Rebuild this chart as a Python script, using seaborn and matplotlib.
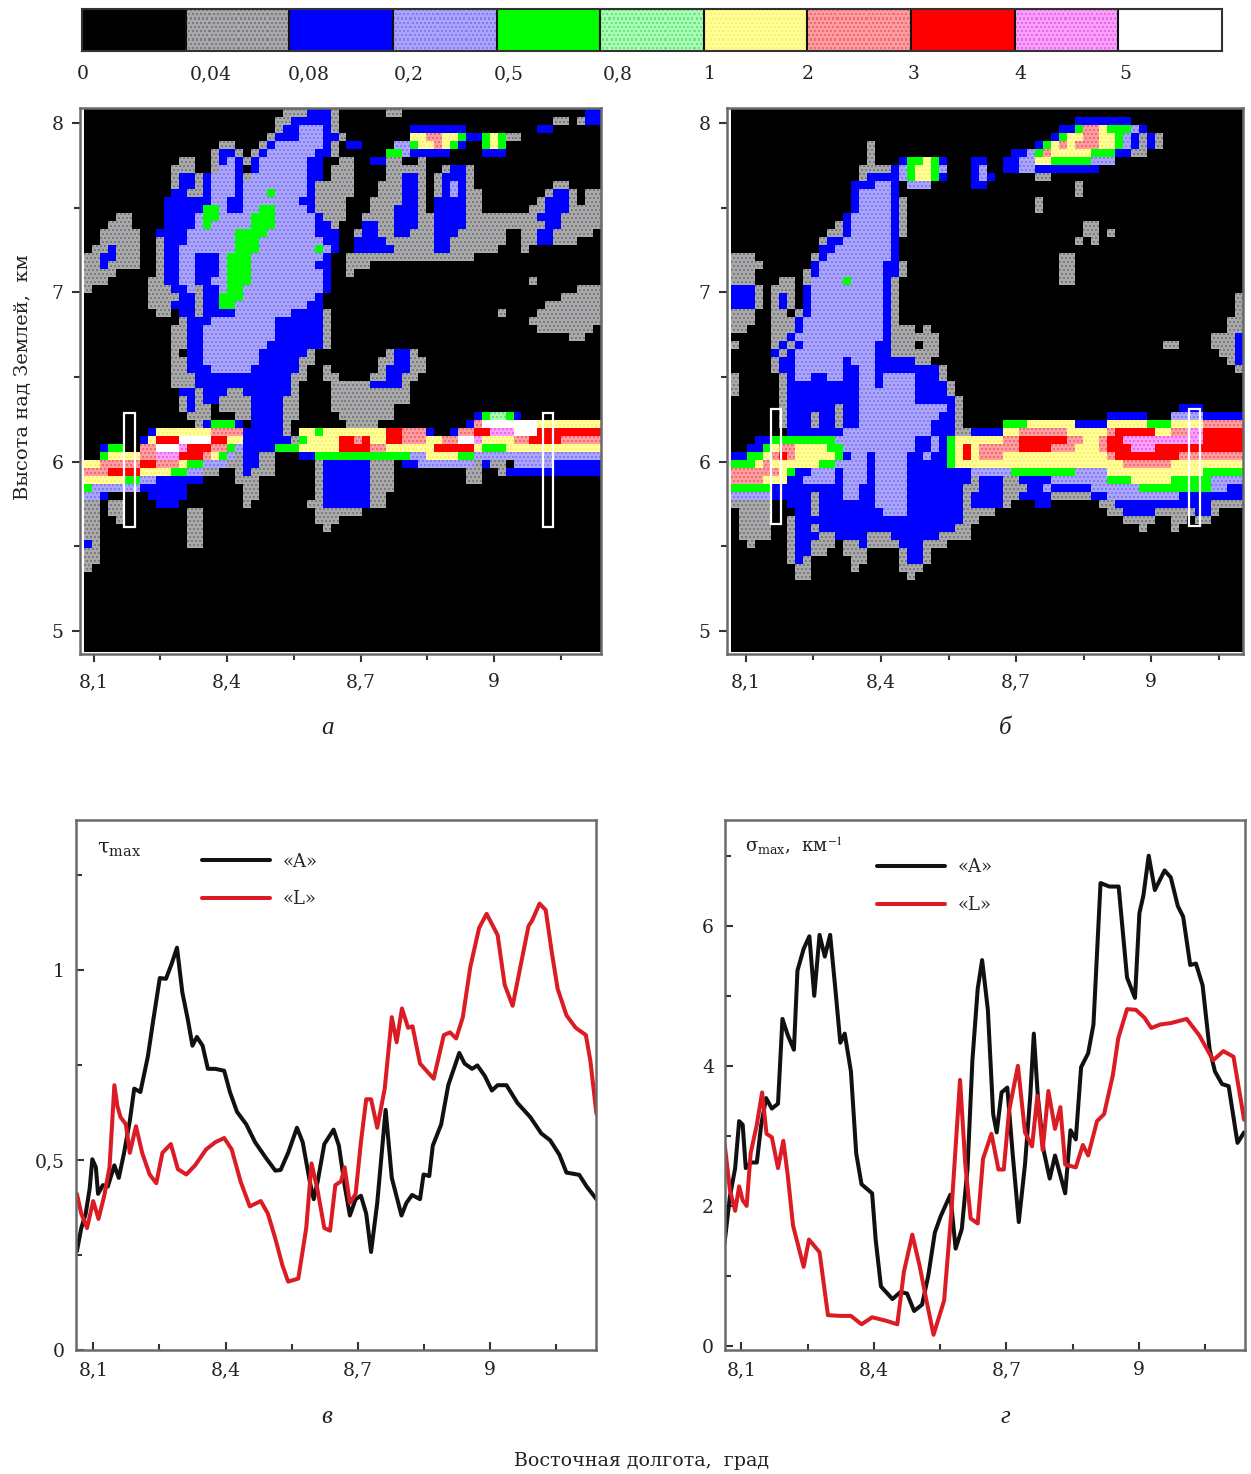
import numpy as np
import pandas as pd
import matplotlib
matplotlib.use("Agg")
import matplotlib.pyplot as plt
from matplotlib.colors import ListedColormap
from matplotlib.patches import Rectangle
import seaborn as sns

# =========================
# colour scale
# =========================
scale_labels = ['0', '0,04', '0,08', '0,2', '0,5', '0,8', '1', '2', '3', '4', '5']
level_colors = ['#000000', '#a9a9a9', '#0000ff', '#a6a6ff', '#00ff00', '#aaffaa',
                '#ffff99', '#ff9c9c', '#ff0000', '#ff9cff', '#ffffff']
dot_colors = ['#000000', '#7c7c84', '#0000ff', '#8f78e8', '#00ff00', '#66e09a',
              '#fff070', '#ee6a7a', '#ff0000', '#e070e0', '#ffffff']

# =========================
# lidar sections: "column:level" runs per row, from the top
# =========================
section_a = [
    "25:1 28:2 31:1 32:0 38:1 40:0 63:2 65:0",
    "24:1 26:2 31:1 32:0 59:1 61:0 62:1 63:2 65:0",
    "24:1 25:2 27:3 30:2 31:1 32:0 41:2 48:0 57:2 59:0",
    "23:1 24:2 27:3 30:2 32:1 33:0 41:6 43:7 45:6 47:4 48:2 50:4 51:6 52:4 53:1 55:0",
    "17:1 19:0 22:1 23:2 24:3 30:2 31:1 32:0 33:2 35:0 39:3 41:4 42:6 44:7 45:6 46:4 47:2 48:0 50:4 51:6 52:4 53:0",
    "16:1 17:2 19:1 20:0 21:1 22:2 23:3 29:2 31:1 32:0 38:4 40:3 41:2 46:0 50:2 53:0",
    "12:1 14:0 16:1 17:2 18:3 19:2 20:1 21:2 22:3 28:2 30:0 32:1 34:0 36:2 38:1 40:0 42:1 43:0",
    "11:1 14:0 16:1 17:3 19:2 20:0 21:2 22:3 28:2 30:0 31:1 34:0 38:1 43:0 45:1 46:2 48:1 49:0",
    "11:1 12:2 14:1 15:2 16:3 19:2 20:1 21:3 28:2 30:0 31:1 34:0 38:1 40:2 42:1 43:0 44:1 45:2 48:1 49:0",
    "11:1 12:2 14:1 15:2 16:3 19:2 20:3 28:2 29:1 34:0 37:1 40:2 42:1 43:0 44:1 45:2 46:3 47:2 48:1 49:0 59:1 61:0",
    "11:2 13:1 15:2 16:3 19:2 20:3 23:4 24:3 28:2 29:1 34:0 37:1 40:2 42:1 43:0 44:1 45:2 46:3 47:2 48:1 50:0 58:1 59:2 61:1 62:0 63:1 65:0",
    "10:2 16:3 18:2 20:3 27:2 29:1 33:0 36:1 40:2 42:1 43:0 44:2 48:1 50:0 57:1 58:2 61:1 62:0 63:1 65:0",
    "10:2 15:4 17:3 18:2 20:3 22:4 24:3 28:2 29:1 33:0 36:1 39:2 42:1 43:0 44:2 48:1 50:0 56:1 58:2 61:1 65:0",
    "4:1 6:0 10:2 14:3 15:4 17:3 21:4 24:3 29:2 30:1 33:0 35:1 39:2 42:1 44:2 48:1 57:2 60:1 65:0",
    "3:1 6:0 10:2 14:3 15:4 16:3 21:4 24:3 29:2 31:1 32:0 35:2 37:1 39:2 42:1 44:2 48:1 58:2 60:1 65:0",
    "2:1 7:0 9:2 13:3 19:4 23:3 29:2 32:0 34:1 35:2 37:1 39:2 41:1 44:2 47:1 53:0 55:1 57:2 59:1 64:0",
    "2:1 7:0 9:1 10:2 13:3 19:4 22:3 30:2 32:0 34:2 38:1 44:2 46:1 53:0 55:1 57:2 59:1 62:0",
    "1:1 3:2 4:1 7:0 9:1 10:2 12:3 19:4 22:3 29:4 30:3 31:2 32:0 34:2 39:1 44:2 46:1 52:0 55:1 56:0",
    "0:1 2:2 4:1 7:0 9:1 10:2 12:3 14:2 17:3 18:4 21:3 30:2 31:0 33:1 49:0",
    "0:1 2:2 3:1 7:0 9:1 10:2 12:3 14:2 17:3 18:4 21:3 29:2 31:0 33:1 36:0",
    "0:1 4:0 9:1 10:2 12:3 14:2 17:3 18:4 21:3 30:2 31:0 33:1 34:0",
    "0:1 3:0 8:1 10:2 12:3 14:2 16:3 18:4 21:3 30:2 31:0 56:1 57:0",
    "0:1 1:0 8:1 11:2 13:3 14:1 15:2 17:3 18:4 20:3 30:2 31:0 62:1 65:0",
    "8:1 12:2 14:1 15:2 17:4 20:3 29:2 30:0 60:1 65:0",
    "8:1 11:2 14:1 15:2 17:4 19:3 28:2 30:0 58:1 65:0",
    "9:1 11:0 12:2 14:1 15:2 19:3 26:2 30:1 31:0 52:1 53:0 57:1 65:0",
    "12:1 13:2 16:3 24:2 30:1 31:0 56:1 65:0",
    "11:1 13:2 15:3 24:2 30:1 31:0 57:1 64:0",
    "11:1 13:2 15:3 24:2 30:1 31:0 61:1 63:0",
    "11:1 13:2 15:3 23:2 30:1 31:0",
    "11:1 12:0 13:2 15:3 22:2 28:1 29:0 38:1 39:2 41:1 42:0",
    "11:1 13:2 15:3 22:2 27:1 29:0 37:1 39:2 41:1 43:0",
    "11:1 13:2 16:3 21:2 27:1 28:0 30:1 31:0 37:1 38:2 41:1 43:0",
    "11:1 14:2 26:1 28:0 30:1 32:0 36:1 38:2 40:1 42:0",
    "11:1 14:2 26:1 27:0 31:1 36:2 40:1 41:0",
    "12:2 14:1 15:2 18:1 20:2 26:1 27:0 31:1 41:0",
    "12:1 13:2 14:1 15:2 17:1 21:2 25:1 27:0 31:1 41:0",
    "12:1 13:2 14:1 16:0 17:1 21:2 25:1 27:0 31:1 39:0",
    "13:1 16:0 19:1 21:2 25:1 27:0 32:1 39:0 49:2 50:4 51:5 53:4 54:2 55:0",
    "14:1 15:2 16:4 19:2 20:0 21:2 25:1 26:0 33:1 37:0 48:2 49:7 50:a 57:6 65:0",
    "8:2 9:6 16:7 20:2 25:1 26:0 27:6 29:4 30:6 38:8 40:7 43:2 44:0 46:2 47:7 49:8 51:9 54:a 57:8 65:0",
    "7:2 8:6 9:8 12:a 16:8 18:6 20:2 26:1 27:4 28:6 32:8 34:7 35:8 36:6 38:8 40:7 43:6 45:7 47:a 49:9 50:6 54:7 56:8 60:7 65:0",
    "2:2 3:4 5:0 7:7 9:a 12:9 13:8 16:7 18:4 19:3 20:2 24:4 27:6 32:8 36:7 38:6 44:8 49:6 50:4 53:6 65:0",
    "2:4 3:6 7:7 9:9 12:8 15:7 16:6 17:4 18:3 19:1 20:2 22:1 24:0 27:2 29:4 41:3 43:6 47:4 49:3 65:0",
    "0:6 2:7 7:8 9:7 12:6 13:4 15:3 18:1 20:2 22:1 24:0 29:1 30:2 36:1 39:0 40:2 42:3 49:1 50:2 51:1 53:0 54:3 59:2 65:0",
    "0:7 3:8 7:6 11:4 13:3 15:1 17:0 19:1 20:2 21:1 24:0 29:1 30:2 36:1 39:0 48:1 50:0 52:1 53:2 65:0",
    "0:6 5:4 7:3 9:2 15:0 19:1 22:0 29:1 30:2 36:1 39:0 48:1 50:0",
    "0:4 1:3 7:2 13:0 20:1 22:0 29:1 30:2 36:1 39:0",
    "0:3 2:2 3:0 8:2 13:0 20:1 22:0 29:1 30:2 36:1 38:0",
    "0:1 2:0 3:1 5:0 9:2 12:0 20:1 21:0 28:1 30:2 36:1 38:0",
    "0:1 2:0 3:1 5:0 13:1 15:0 29:1 35:0",
    "0:1 2:0 4:1 5:0 13:1 15:0 29:1 32:0",
    "0:1 2:0 13:1 15:0 30:1 31:0",
    "0:1 2:0 13:1 15:0",
    "0:2 1:1 2:0 13:1 15:0",
    "0:1 2:0",
    "0:1 2:0",
    "0:1 1:0",
]

section_b = [
    "",
    "43:2 50:0",
    "41:2 43:4 44:7 46:6 47:4 50:3 51:2 52:0",
    "40:2 41:4 42:6 44:7 46:6 48:4 49:3 50:2 51:1 52:2 53:1 54:0",
    "17:1 18:0 38:2 39:4 40:6 41:7 42:6 43:7 46:6 48:4 49:3 50:2 51:1 52:2 53:1 54:0",
    "17:1 18:0 35:2 37:3 38:4 39:7 40:6 45:4 48:2 50:1 52:0",
    "17:1 18:0 21:2 22:4 24:6 25:4 26:2 27:0 30:2 32:0 34:2 36:3 38:6 40:4 45:3 48:0",
    "16:1 20:2 21:3 22:4 23:6 25:4 26:3 27:0 30:2 31:3 32:0 34:2 36:3 38:2 46:0",
    "16:1 17:2 21:3 22:4 23:6 25:4 26:2 27:0 30:2 31:3 32:2 33:0 38:1 40:0",
    "15:2 18:3 20:2 21:0 22:3 25:0 30:2 32:0 43:1 44:0",
    "15:2 16:3 20:2 21:0 43:1 44:0",
    "15:2 16:3 20:2 21:1 22:0 38:1 39:0",
    "15:2 16:3 20:2 21:1 22:0 38:1 39:0",
    "14:2 15:3 20:2 21:1 22:0",
    "13:1 14:2 15:3 20:2 21:1 22:0 44:1 46:0",
    "12:1 14:2 15:3 20:2 21:1 22:0 44:1 46:0 47:1 48:0",
    "11:1 12:2 14:3 20:2 21:0 43:1 44:0 45:1 46:0",
    "11:2 13:3 20:2 21:0",
    "0:1 3:0 10:1 11:2 12:3 20:2 21:0 41:1 43:0",
    "0:1 4:0 10:2 11:3 19:2 21:1 22:0 41:1 43:0",
    "0:1 3:0 9:1 10:2 11:3 19:2 21:1 22:0 41:1 43:0",
    "0:1 3:0 6:1 8:0 9:1 10:3 14:4 15:3 19:2 20:1 21:0 41:1 43:0",
    "0:2 3:1 4:0 5:1 8:0 9:2 10:3 19:2 20:1 21:0",
    "0:2 3:1 4:0 5:1 6:2 7:1 8:0 9:2 10:3 19:2 20:1 21:0 63:1 64:0",
    "0:2 3:1 4:0 5:1 6:2 7:1 8:0 9:2 10:3 19:2 20:1 21:0 63:1 64:0",
    "0:1 3:0 5:1 7:0 8:1 9:2 10:3 19:2 20:1 21:0 63:1 64:0",
    "0:1 3:0 5:1 8:2 9:3 19:2 20:1 21:0 62:1 64:0",
    "0:1 2:0 5:1 8:2 9:3 19:2 20:1 23:0 24:1 25:0 62:1 64:0",
    "5:1 7:2 8:3 19:2 20:1 26:0 60:1 63:2 64:0",
    "0:1 1:0 5:1 6:2 7:1 8:2 9:3 18:2 20:1 23:0 24:1 26:0 54:1 56:0 60:1 63:2 64:0",
    "5:2 6:1 7:2 8:3 18:2 20:1 26:0 61:1 63:2 64:0",
    "5:1 6:2 8:3 14:2 15:3 18:2 23:1 25:0 62:1 63:2 64:0",
    "5:1 6:2 8:3 14:2 16:3 18:2 26:1 27:0 63:1 64:0",
    "0:1 1:0 6:1 7:2 8:3 10:2 12:3 14:2 16:3 18:2 19:3 23:2 26:1 27:0",
    "0:1 1:0 6:1 7:2 16:3 18:2 19:3 23:2 27:1 28:0",
    "0:1 1:0 6:1 7:2 16:3 23:2 27:1 28:0",
    "6:1 7:2 16:3 23:2 28:1 29:0",
    "6:1 7:2 13:1 14:2 16:3 27:2 28:1 29:0 56:2 59:0",
    "6:1 7:2 10:1 11:2 13:1 14:2 16:3 26:2 28:1 29:0 47:2 52:0 55:3 59:2 64:0",
    "6:1 7:2 10:1 11:2 13:1 14:2 16:3 25:2 28:1 29:0 34:4 37:6 43:2 47:6 52:4 55:6 59:7 64:0",
    "7:2 14:3 25:2 28:1 30:2 34:6 36:7 42:6 47:7 48:8 53:6 55:7 57:9 59:8 64:0",
    "3:2 5:4 13:3 23:2 25:3 26:2 27:4 28:6 34:7 36:8 42:7 44:6 46:7 47:8 49:9 59:8 64:0",
    "2:2 4:4 5:6 6:7 8:6 12:4 14:3 23:2 25:3 26:2 27:4 28:6 29:8 30:6 31:7 36:8 40:7 43:6 46:7 47:8 50:9 53:8 64:0",
    "0:2 2:4 4:6 5:7 6:8 7:7 8:6 13:4 14:2 15:3 17:2 18:3 22:2 24:3 25:2 27:4 28:6 29:8 30:6 31:7 34:6 47:7 48:8 56:7 64:0",
    "0:4 3:6 4:7 5:6 11:4 13:3 17:2 18:3 22:2 27:4 28:6 49:7 55:6 64:0",
    "0:7 6:6 7:4 8:2 10:3 13:2 14:3 17:2 18:3 22:2 30:3 35:4 43:3 47:6 59:4 64:0",
    "0:7 4:6 7:2 9:3 13:2 14:3 17:2 18:3 22:2 30:1 31:2 34:1 36:2 40:3 47:4 50:6 55:4 60:3 64:0",
    "0:4 5:2 14:3 16:2 18:3 22:2 29:1 31:2 34:1 37:2 39:3 40:2 45:3 51:4 60:3 62:2 64:0",
    "0:3 5:2 10:1 11:2 14:3 16:2 18:3 22:2 29:1 30:2 34:1 36:2 40:1 45:2 47:3 56:2 64:0",
    "0:1 5:0 7:2 10:1 11:2 18:3 22:2 29:1 30:2 34:1 35:0 38:2 40:0 46:1 48:2 60:1 64:0",
    "1:1 5:0 8:2 10:1 11:2 19:3 22:2 29:1 31:1 33:0 47:1 49:2 53:1 58:2 60:1 61:0",
    "1:1 5:0 7:1 8:2 29:1 31:0 49:1 53:0 55:1 57:0 58:1 60:0",
    "1:1 5:0 7:1 8:2 10:1 11:2 28:1 30:0 51:1 52:0 55:1 56:0",
    "1:1 5:0 7:1 8:2 11:1 13:2 17:1 20:2 26:1 30:0",
    "2:1 3:0 7:1 8:2 10:1 13:0 14:1 16:2 17:1 21:2 24:1 27:0",
    "7:1 8:2 10:1 12:0 14:1 17:0 21:1 22:2 24:1 25:0",
    "7:1 8:2 9:1 10:0 15:1 17:0 21:1 22:2 24:1 25:0",
    "8:1 10:0 15:1 16:0 21:1 24:0",
    "8:1 10:0 22:1 23:0",
]

# =========================
# curves
# =========================
tau_lon_a = [8.063, 8.073, 8.083, 8.092, 8.098, 8.106, 8.111, 8.122, 8.133, 8.148, 8.158, 8.170, 8.183, 8.193,
             8.207, 8.224, 8.236, 8.251, 8.265, 8.278, 8.290, 8.302, 8.315, 8.325, 8.335, 8.348, 8.360, 8.377,
             8.397, 8.410, 8.426, 8.447, 8.467, 8.492, 8.513, 8.525, 8.542, 8.562, 8.575, 8.591, 8.600, 8.609,
             8.624, 8.645, 8.657, 8.670, 8.682, 8.695, 8.707, 8.719, 8.730, 8.744, 8.763, 8.777, 8.799, 8.810,
             8.823, 8.841, 8.849, 8.862, 8.870, 8.889, 8.905, 8.930, 8.942, 8.959, 8.971, 8.988, 9.004, 9.017,
             9.037, 9.062, 9.091, 9.116, 9.136, 9.157, 9.173, 9.202, 9.219, 9.241]
tau_a = [.260, .321, .359, .425, .502, .481, .411, .434, .430, .486, .453, .519, .603, .688,
         .679, .773, .867, .979, .977, 1.017, 1.059, .942, .867, .801, .824, .801, .740, .740,
         .735, .679, .627, .594, .547, .505, .472, .474, .519, .585, .547, .444, .397, .444,
         .542, .580, .538, .434, .354, .397, .406, .359, .258, .387, .632, .453, .354, .387,
         .408, .397, .462, .458, .538, .594, .697, .782, .754, .740, .749, .721, .683, .697,
         .697, .650, .613, .570, .552, .514, .467, .461, .430, .397]
tau_lon_l = [8.063, 8.073, 8.086, 8.100, 8.112, 8.125, 8.137, 8.148, 8.155, 8.162, 8.174, 8.183, 8.197, 8.211,
             8.228, 8.243, 8.257, 8.276, 8.292, 8.311, 8.331, 8.356, 8.377, 8.397, 8.414, 8.434, 8.455, 8.480,
             8.496, 8.513, 8.529, 8.542, 8.565, 8.583, 8.595, 8.608, 8.624, 8.637, 8.649, 8.662, 8.670, 8.682,
             8.695, 8.707, 8.719, 8.730, 8.744, 8.761, 8.777, 8.788, 8.800, 8.814, 8.824, 8.841, 8.872, 8.895,
             8.909, 8.923, 8.938, 8.955, 8.975, 8.992, 9.017, 9.033, 9.051, 9.070, 9.087, 9.095, 9.112, 9.126,
             9.140, 9.153, 9.173, 9.194, 9.217, 9.227, 9.241]
tau_l = [.411, .359, .321, .392, .345, .406, .481, .697, .641, .613, .594, .519, .589, .519,
         .462, .439, .519, .542, .476, .462, .486, .528, .547, .558, .528, .444, .378, .392,
         .359, .293, .223, .180, .188, .321, .491, .425, .321, .314, .434, .444, .481, .387,
         .411, .547, .660, .660, .585, .688, .876, .810, .899, .848, .852, .754, .714, .829,
         .836, .820, .876, 1.008, 1.111, 1.148, 1.092, .961, .906, 1.017, 1.116, 1.130, 1.175, 1.158,
         1.045, .951, .881, .848, .829, .763, .622]

sigma_lon_a = [8.062, 8.074, 8.086, 8.095, 8.103, 8.110, 8.121, 8.135, 8.145, 8.156, 8.169, 8.183, 8.193, 8.205,
               8.219, 8.227, 8.241, 8.254, 8.265, 8.277, 8.289, 8.301, 8.312, 8.324, 8.334, 8.348, 8.360, 8.372,
               8.396, 8.404, 8.416, 8.442, 8.460, 8.475, 8.491, 8.509, 8.523, 8.538, 8.551, 8.573, 8.585, 8.599,
               8.612, 8.623, 8.635, 8.645, 8.658, 8.670, 8.678, 8.689, 8.702, 8.714, 8.728, 8.742, 8.754, 8.762,
               8.771, 8.784, 8.798, 8.810, 8.833, 8.845, 8.857, 8.869, 8.885, 8.897, 8.913, 8.933, 8.954, 8.973,
               8.991, 9.001, 9.010, 9.022, 9.036, 9.058, 9.072, 9.088, 9.100, 9.116, 9.129, 9.144, 9.160, 9.172,
               9.188, 9.203, 9.223, 9.238]
sigma_a = [1.47, 2.13, 2.54, 3.21, 3.16, 2.54, 2.62, 2.62, 3.16, 3.54, 3.39, 3.46, 4.67, 4.44,
           4.23, 5.36, 5.67, 5.85, 5.00, 5.87, 5.56, 5.87, 5.15, 4.33, 4.46, 3.92, 2.75, 2.31,
           2.18, 1.52, .85, .67, .77, .75, .50, .59, 1.00, 1.62, 1.85, 2.16, 1.39, 1.67,
           2.54, 4.08, 5.10, 5.51, 4.80, 3.31, 3.05, 3.62, 3.69, 2.75, 1.77, 2.59, 3.57, 4.46,
           3.57, 2.80, 2.39, 2.72, 2.18, 3.08, 2.95, 3.98, 4.18, 4.59, 6.61, 6.56, 6.56, 5.26,
           4.97, 6.18, 6.43, 7.00, 6.51, 6.79, 6.69, 6.28, 6.13, 5.44, 5.46, 5.15, 4.23, 3.92,
           3.74, 3.71, 2.90, 3.05]
sigma_lon_l = [8.062, 8.074, 8.086, 8.095, 8.103, 8.112, 8.121, 8.135, 8.147, 8.157, 8.169, 8.183, 8.195, 8.205,
               8.217, 8.241, 8.253, 8.277, 8.296, 8.324, 8.348, 8.372, 8.396, 8.428, 8.453, 8.468, 8.487, 8.503,
               8.519, 8.535, 8.559, 8.575, 8.595, 8.607, 8.619, 8.635, 8.647, 8.666, 8.682, 8.694, 8.706, 8.726,
               8.742, 8.758, 8.770, 8.782, 8.795, 8.810, 8.822, 8.833, 8.857, 8.873, 8.885, 8.905, 8.921, 8.941,
               8.953, 8.973, 8.993, 9.012, 9.028, 9.048, 9.072, 9.108, 9.136, 9.168, 9.191, 9.214, 9.238]
sigma_l = [2.90, 2.23, 1.93, 2.28, 2.08, 2.00, 2.75, 3.16, 3.62, 3.03, 2.98, 2.54, 2.93, 2.44,
           1.72, 1.13, 1.52, 1.34, .44, .43, .43, .31, .41, .36, .31, 1.06, 1.59, 1.16,
           .65, .16, .65, 1.88, 3.80, 2.59, 1.82, 1.75, 2.67, 3.03, 2.52, 2.52, 3.36, 4.00,
           3.05, 2.85, 3.57, 2.80, 3.64, 3.10, 3.41, 2.59, 2.55, 2.87, 2.72, 3.21, 3.31, 3.87,
           4.39, 4.81, 4.80, 4.69, 4.54, 4.59, 4.61, 4.67, 4.44, 4.08, 4.21, 4.13, 3.23]

lon_major = [8.1, 8.4, 8.7, 9.0]
lon_minor = [8.25, 8.55, 8.85, 9.15]
lon_labels = ['8,1', '8,4', '8,7', '9']

sns.set_theme(style='ticks')
plt.rcParams['font.family'] = ['DejaVu Serif', 'Liberation Serif']
plt.rcParams['mathtext.fontset'] = 'stix'
FS = 13.5
EDGE = '#6a6a6a'
W, H = 1251, 1474


def add_ax(x0, y0, x1, y1, **kw):
    return fig.add_axes([x0 / W, 1 - y1 / H, (x1 - x0) / W, (y1 - y0) / H], **kw)


def parse_section(rows, ncols, nrows):
    grid = np.zeros((nrows, ncols), dtype=int)
    for r, row in enumerate(rows):
        runs = [t.split(':') for t in row.split()]
        for i, (c, lev) in enumerate(runs):
            end = int(runs[i + 1][0]) if i + 1 < len(runs) else ncols
            grid[r, int(c):end] = int(lev, 16)
    return grid


def stipple(grid, k, ky=None):
    # every second subcell of a dotted level takes the dot colour
    ky = ky or k
    fine = np.kron(grid, np.ones((ky, k), dtype=int))
    ii, jj = np.indices(fine.shape)
    shift = (ii // 2) % 2
    dots = (ii % 2 == 0) & ((jj + shift) % 2 == 0) & np.isin(fine, [1, 3, 5, 6, 7, 9])
    return fine + 11 * dots


cmap = ListedColormap(level_colors + dot_colors)


def draw_field(grid, box):
    ax = add_ax(*box, zorder=1)
    sns.heatmap(stipple(grid, 4), cmap=cmap, vmin=-0.5, vmax=21.5, cbar=False,
                xticklabels=False, yticklabels=False, ax=ax)
    ax.set_xlabel('')
    ax.set_ylabel('')


def style_frame(ax, xlim, ylim, direction, length, pad):
    ax.set_xlim(*xlim)
    ax.set_ylim(*ylim)
    ax.set_xticks(lon_major, lon_labels)
    ax.set_xticks(lon_minor, minor=True)
    ax.tick_params(axis='both', which='major', direction=direction, length=length, width=1.5,
                   color='#333333', labelsize=FS, labelcolor='#222222', pad=pad)
    ax.tick_params(axis='both', which='minor', direction=direction, length=length * 0.7, width=1.5,
                   color='#333333')
    for s in ax.spines.values():
        s.set_visible(True)
        s.set_color(EDGE)
        s.set_linewidth(1.8)


fig = plt.figure(figsize=(W / 100, H / 100), dpi=100)

# =========================
# colour bar
# =========================
ax_bar = add_ax(82, 9, 1222, 51)
bar_grid = np.arange(11).reshape(1, 11)
sns.heatmap(stipple(bar_grid, 50, 20), cmap=cmap, vmin=-0.5, vmax=21.5, cbar=False,
            xticklabels=False, yticklabels=False, ax=ax_bar)
ax_bar.vlines(np.arange(1, 11) * 50, 0, 20, color='#111111', lw=1.5)
ax_bar.set_xlabel('')
ax_bar.set_ylabel('')
for s in ax_bar.spines.values():
    s.set_visible(True)
    s.set_color('#333333')
    s.set_linewidth(1.5)
label_left = [77, 190, 288, 394, 494, 603, 704, 802, 908, 1014, 1119]
for px, label in zip(label_left, scale_labels):
    fig.text(px / W, 1 - 74 / H, label, fontsize=FS, color='#222222', ha='left', va='center')

# =========================
# sections a, b
# =========================
draw_field(parse_section(section_a, 65, 68), (84, 109, 601, 652))
draw_field(parse_section(section_b, 64, 68), (731, 109, 1243, 652))

ax_a = add_ax(80, 108, 601, 654, zorder=2)
ax_b = add_ax(727, 108, 1243, 654, zorder=2)
ax_a.patch.set_visible(False)
ax_b.patch.set_visible(False)
style_frame(ax_a, (8.069, 9.241), (4.864, 8.089), 'out', 6, 8)
style_frame(ax_b, (8.058, 9.204), (4.864, 8.089), 'out', 6, 8)
for ax in (ax_a, ax_b):
    ax.set_yticks([5, 6, 7, 8], ['5', '6', '7', '8'])
    ax.set_yticks([5.5, 6.5, 7.5], minor=True)
    ax.tick_params(axis='y', which='major', pad=6)
ax_a.set_ylabel('Высота над Землей,  км', fontsize=14, color='#222222')
ax_a.yaxis.set_label_coords(-0.092, 0.507)

for ax, spans in ((ax_a, [(8.168, 8.193, 5.616, 6.29), (9.111, 9.133, 5.616, 6.29)]),
                  (ax_b, [(8.156, 8.178, 5.634, 6.31), (9.084, 9.109, 5.622, 6.31)])):
    for x0, x1, y0, y1 in spans:
        ax.add_patch(Rectangle((x0, y0), x1 - x0, y1 - y0, fill=False, ec='white', lw=1.6))

# =========================
# curves c, d
# =========================
def curves(lon_a, val_a, lon_l, val_l):
    return pd.DataFrame({
        'lon': list(lon_a) + list(lon_l),
        'val': list(val_a) + list(val_l),
        'beam': ['«A»'] * len(lon_a) + ['«L»'] * len(lon_l),
    })


palette = {'«A»': '#111111', '«L»': '#dc1c24'}

ax_c = add_ax(76, 820, 596, 1350)
sns.lineplot(data=curves(tau_lon_a, tau_a, tau_lon_l, tau_l), x='lon', y='val', hue='beam',
             palette=palette, estimator=None, sort=False, lw=2.9, ax=ax_c)
style_frame(ax_c, (8.061, 9.240), (0, 1.395), 'in', 6, 8)
ax_c.set_yticks([0, 0.5, 1], ['0', '0,5', '1'])
ax_c.set_yticks([0.25, 0.75, 1.25], minor=True)
ax_c.legend(title=None, frameon=False, loc='upper left', bbox_to_anchor=(0.242, 0.9385), borderaxespad=0,
            borderpad=0, fontsize=13, handlelength=3.8, handletextpad=0.65, labelspacing=1.1)
ax_c.text(0.04, 0.945, r'$\mathregular{\tau_{max}}$', transform=ax_c.transAxes, fontsize=15,
          color='#222222', va='center')

ax_d = add_ax(725, 820, 1245, 1350)
sns.lineplot(data=curves(sigma_lon_a, sigma_a, sigma_lon_l, sigma_l), x='lon', y='val', hue='beam',
             palette=palette, estimator=None, sort=False, lw=2.9, ax=ax_d)
style_frame(ax_d, (8.063, 9.240), (-0.057, 7.51), 'in', 6, 8)
ax_d.set_yticks([0, 2, 4, 6], ['0', '2', '4', '6'])
ax_d.set_yticks([1, 3, 5, 7], minor=True)
ax_d.legend(title=None, frameon=False, loc='upper left', bbox_to_anchor=(0.292, 0.928), borderaxespad=0,
            borderpad=0, fontsize=13, handlelength=3.8, handletextpad=0.65, labelspacing=1.1)
ax_d.text(0.038, 0.95, r'$\mathregular{\sigma_{max}}$,  км$^{-1}$', transform=ax_d.transAxes, fontsize=13,
          color='#222222', va='center')

for ax in (ax_c, ax_d):
    ax.set_xlabel('')
    ax.set_ylabel('')

# =========================
# panel letters and common label
# =========================
for x, y, letter in ((327, 728, 'а'), (1005, 728, 'б'), (327, 1417, 'в'), (1005, 1417, 'г')):
    fig.text(x / W, 1 - y / H, letter, fontsize=18, style='italic', color='#222222', ha='center', va='center',
             family='Liberation Serif')
fig.text(641 / W, 1 - 1461 / H, 'Восточная долгота,  град', fontsize=13.7, color='#222222', ha='center', va='center')

fig.savefig('out.png', dpi=100)
